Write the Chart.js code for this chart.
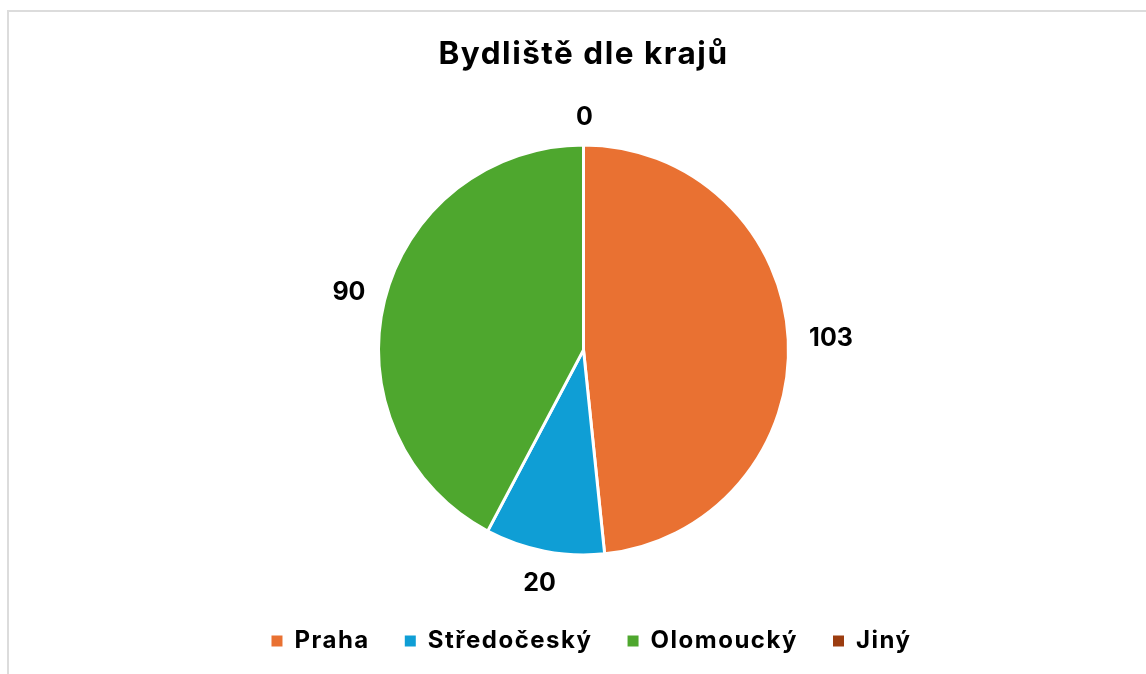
<!DOCTYPE html>
<html>
<head>
<meta charset="utf-8">
<script src="https://cdn.jsdelivr.net/npm/chart.js@4.4.1/dist/chart.umd.min.js"></script>
<style>
  html, body { margin: 0; padding: 0; background: #fff; overflow: hidden; }
  #wrap { position: relative; width: 1146px; height: 674px; }
  #frame { position: absolute; left: 7px; top: 10px; width: 1200px; height: 700px; border: 2px solid #dcdcdc; box-sizing: border-box; }
  canvas { position: absolute; left: 0; top: 0; }
</style>
</head>
<body>
<div id="wrap">
  <div id="frame"></div>
  <canvas id="c" width="1146" height="674"></canvas>
</div>
<script>
const titleText = "Bydliště dle krajů";
const categories = ["Praha", "Středočeský", "Olomoucký", "Jiný"];
const values = [103, 20, 90, 0];
const colors = ["#E97132", "#0F9ED5", "#4EA72E", "#9C3D10"];

const FONT = "Inter, 'Liberation Sans', Arial, sans-serif";

const textSpacing = {
  id: 'textSpacing',
  beforeLayout(chart) { chart.ctx.letterSpacing = '1.5px'; },
  afterLayout(chart) { if (chart.legend) { chart.legend.left += 16; } },
  beforeDraw(chart) { chart.ctx.letterSpacing = '1.5px'; }
};

const outsideLabels = {
  id: 'outsideLabels',
  afterDatasetsDraw(chart) {
    const ctx = chart.ctx;
    const meta = chart.getDatasetMeta(0);
    ctx.save();
    ctx.letterSpacing = '0px';
    ctx.font = "bold 25px " + FONT;
    ctx.fillStyle = "#000";
    ctx.textAlign = "center";
    ctx.textBaseline = "middle";
    const gap = 21, h = 18;
    meta.data.forEach((arc, i) => {
      const p = arc.getProps(['x', 'y', 'startAngle', 'endAngle', 'outerRadius'], true);
      const mid = (p.startAngle + p.endAngle) / 2;
      const txt = String(values[i]);
      const w = ctx.measureText(txt).width;
      const c = Math.cos(mid), s = Math.sin(mid);
      const ext = Math.abs(c) * w / 2 + Math.abs(s) * h / 2;
      const d = p.outerRadius - 1.5 + gap + ext;
      ctx.fillText(txt, p.x + c * d + 1, p.y + s * d + 1);
    });
    ctx.restore();
  }
};

new Chart(document.getElementById('c'), {
  type: 'pie',
  data: {
    labels: categories,
    datasets: [{
      data: values,
      backgroundColor: colors,
      borderColor: "#ffffff",
      borderWidth: 3
    }]
  },
  options: {
    responsive: false,
    animation: false,
    radius: 205,
    layout: { padding: { top: 0, bottom: 11, left: 21, right: 0 } },
    plugins: {
      tooltip: { enabled: false },
      title: {
        display: true,
        text: titleText,
        color: "#000",
        font: { family: FONT, size: 31.5, weight: 'bold' },
        padding: { top: 36, bottom: 32 }
      },
      legend: {
        position: 'bottom',
        labels: {
          color: "#000",
          font: { family: FONT, size: 24, weight: 'bold' },
          boxWidth: 11,
          boxHeight: 11,
          padding: 35,
          generateLabels(chart) {
            const items = Chart.overrides.pie.plugins.legend.labels.generateLabels(chart);
            items.forEach(it => { it.lineWidth = 0; it.strokeStyle = it.fillStyle; });
            return items;
          }
        }
      }
    }
  },
  plugins: [textSpacing, outsideLabels]
});
</script>
</body>
</html>
